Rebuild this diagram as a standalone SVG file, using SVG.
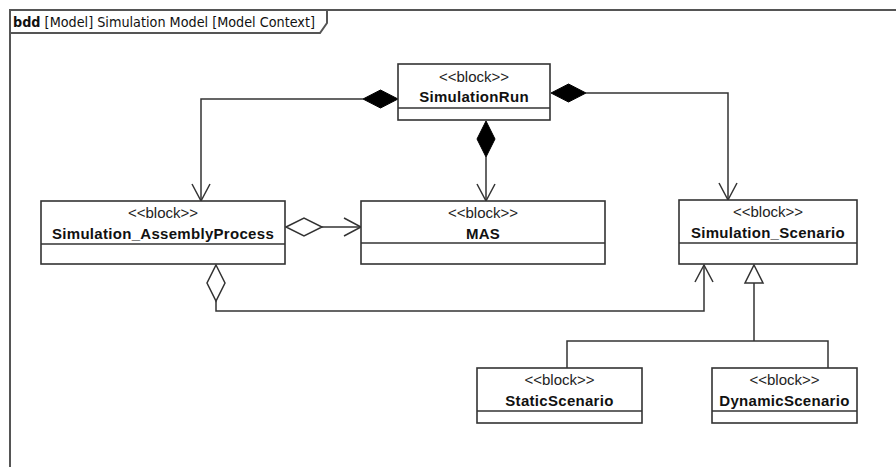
<svg xmlns="http://www.w3.org/2000/svg" width="896" height="467" viewBox="0 0 896 467">
  <style>
    .frame { fill: none; stroke: #555; stroke-width: 2; }
    .box { fill: #fff; stroke: #333; stroke-width: 1.6; }
    .div { stroke: #333; stroke-width: 1.4; }
    .stereo { font-family: "Liberation Sans", Arial, sans-serif; font-size: 15px; fill: #222; text-anchor: middle; }
    .name { font-family: "Liberation Sans", Arial, sans-serif; font-size: 15px; font-weight: bold; fill: #111; text-anchor: middle; letter-spacing: 0.3px; }
    .title { font-family: "DejaVu Sans", Verdana, sans-serif; font-size: 14px; fill: #111; }
    .line { fill: none; stroke: #333; stroke-width: 1.5; }
    .comp { fill: #000; stroke: #000; stroke-width: 1; }
    .aggr { fill: #fff; stroke: #333; stroke-width: 1.5; }
    .open { fill: none; stroke: #333; stroke-width: 1.5; }
    .gen { fill: #fff; stroke: #333; stroke-width: 1.5; }
  </style>
  <rect x="0" y="0" width="896" height="467" fill="#fff"/>

  <!-- diagram frame with name tab -->
  <g id="frame">
    <polyline class="frame" points="10,467 10,10 896,10"/>
    <polyline class="frame" points="10,33 320,33 327,23 327,10"/>
    <text class="title" x="13" y="27" textLength="302" lengthAdjust="spacingAndGlyphs"><tspan font-weight="bold">bdd</tspan> [Model] Simulation Model [Model Context]</text>
  </g>

  <!-- connectors -->
  <g id="connectors">
    <!-- SimulationRun to Simulation_AssemblyProcess -->
    <polyline class="line" points="363,99 201,99 201,201"/>
    <polygon class="comp" points="398,99 380.5,90 363,99 380.5,108"/>
    <polyline class="open" points="192,184 201,201 210,184"/>

    <!-- SimulationRun to Simulation_Scenario -->
    <polyline class="line" points="586,93 728,93 728,200"/>
    <polygon class="comp" points="551,93 568.5,84 586,93 568.5,102"/>
    <polyline class="open" points="719,183 728,200 737,183"/>

    <!-- SimulationRun to MAS -->
    <polyline class="line" points="486,157 486,201"/>
    <polygon class="comp" points="486,121 495,139 486,157 477,139"/>
    <polyline class="open" points="477,184 486,201 495,184"/>

    <!-- Simulation_AssemblyProcess to MAS -->
    <polyline class="line" points="322,227 361,227"/>
    <polygon class="aggr" points="286,227 304,218 322,227 304,236"/>
    <polyline class="open" points="344,218 361,227 344,236"/>

    <!-- Simulation_AssemblyProcess to Simulation_Scenario -->
    <polyline class="line" points="216,301 216,311 704,311 704,265"/>
    <polygon class="aggr" points="216,265 225,283 216,301 207,283"/>
    <polyline class="open" points="695,282 704,265 713,282"/>

    <!-- generalization tree -->
    <polyline class="line" points="754,283 754,341"/>
    <polyline class="line" points="567,368 567,341 828,341 828,368"/>
    <polygon class="gen" points="754,265 763,283 745,283"/>
  </g>

  <g id="SimulationRun">
    <rect class="box" x="398" y="64" width="152" height="56"/>
    <line class="div" x1="398" y1="108" x2="550" y2="108"/>
    <text class="stereo" x="474" y="82">&lt;&lt;block&gt;&gt;</text>
    <text class="name" x="474" y="102">SimulationRun</text>
  </g>

  <g id="Simulation_AssemblyProcess">
    <rect class="box" x="41" y="201" width="244" height="63"/>
    <line class="div" x1="41" y1="244" x2="285" y2="244"/>
    <text class="stereo" x="163" y="218">&lt;&lt;block&gt;&gt;</text>
    <text class="name" x="163" y="239">Simulation_AssemblyProcess</text>
  </g>

  <g id="MAS">
    <rect class="box" x="361" y="201" width="244" height="63"/>
    <line class="div" x1="361" y1="243" x2="605" y2="243"/>
    <text class="stereo" x="483" y="218">&lt;&lt;block&gt;&gt;</text>
    <text class="name" x="483" y="239">MAS</text>
  </g>

  <g id="Simulation_Scenario">
    <rect class="box" x="679" y="200" width="178" height="64"/>
    <line class="div" x1="679" y1="243" x2="857" y2="243"/>
    <text class="stereo" x="768" y="217">&lt;&lt;block&gt;&gt;</text>
    <text class="name" x="768" y="238">Simulation_Scenario</text>
  </g>

  <g id="StaticScenario">
    <rect class="box" x="477" y="368" width="165" height="55"/>
    <line class="div" x1="477" y1="411" x2="642" y2="411"/>
    <text class="stereo" x="559.5" y="385">&lt;&lt;block&gt;&gt;</text>
    <text class="name" x="559.5" y="406">StaticScenario</text>
  </g>

  <g id="DynamicScenario">
    <rect class="box" x="712" y="368" width="145" height="55"/>
    <line class="div" x1="712" y1="411" x2="857" y2="411"/>
    <text class="stereo" x="784.5" y="385">&lt;&lt;block&gt;&gt;</text>
    <text class="name" x="784.5" y="406">DynamicScenario</text>
  </g>
</svg>
